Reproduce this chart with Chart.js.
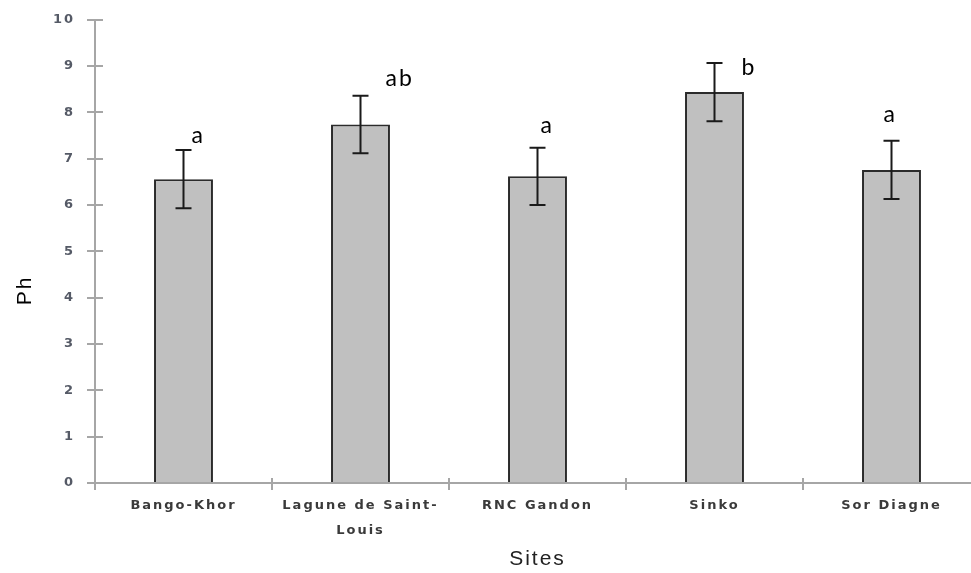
<!DOCTYPE html>
<html lang="fr">
<head>
    <meta charset="UTF-8">
    <title>Ph par site</title>
    <style>
        body {
            margin: 0;
            background-color: #ffffff;
            overflow: hidden;
        }
        #wrap {
            width: 990px;
            height: 573px;
        }
    </style>
    <script src="https://cdn.jsdelivr.net/npm/chart.js"></script>
</head>
<body>
    <div id="wrap">
        <canvas id="chartPh" width="990" height="573"></canvas>
    </div>
    <script>
        // Données
        const sites = ['Bango-Khor', ['Lagune de Saint-', 'Louis'], 'RNC Gandon', 'Sinko', 'Sor Diagne'];
        const moyennes = [6.56, 7.74, 6.62, 8.44, 6.76];
        const ecarts = [0.63, 0.62, 0.62, 0.63, 0.63];
        const lettres = ['a', 'ab', 'a', 'b', 'a'];
        const yTicks = [0, 1, 2, 3, 4, 5, 6, 7, 8, 9, 10];

        const axisColor = '#a6a6a6';

        // espacement des lettres (la figure d'origine est étirée en largeur)
        const spacingPlugin = {
            id: 'spacing',
            beforeDraw(chart) {
                chart.ctx.letterSpacing = '2px';
            }
        };

        // barres d'erreur + lettres de significativité
        const errorPlugin = {
            id: 'errorBars',
            afterDatasetsDraw(chart, args, opts) {
                const ctx = chart.ctx;
                const y = chart.scales.y;
                const meta = chart.getDatasetMeta(0);
                ctx.save();
                ctx.strokeStyle = '#1a1a1a';
                ctx.lineWidth = 2;
                meta.data.forEach((bar, i) => {
                    const x = bar.x;
                    const top = y.getPixelForValue(moyennes[i] + ecarts[i]);
                    const bot = y.getPixelForValue(moyennes[i] - ecarts[i]);
                    ctx.beginPath();
                    ctx.moveTo(x, top);
                    ctx.lineTo(x, bot);
                    ctx.moveTo(x - 8, top);
                    ctx.lineTo(x + 8, top);
                    ctx.moveTo(x - 8, bot);
                    ctx.lineTo(x + 8, bot);
                    ctx.stroke();

                    const off = opts.offsets[i];
                    ctx.fillStyle = '#000000';
                    ctx.font = '23px Lato';
                    ctx.textAlign = 'left';
                    ctx.textBaseline = 'alphabetic';
                    ctx.fillText(lettres[i], x + off[0], top + off[1]);
                });
                ctx.restore();
            }
        };

        // petits traits qui traversent les axes + titre "Ph"
        const axisPlugin = {
            id: 'axisExtras',
            afterDraw(chart) {
                const ctx = chart.ctx;
                const xs = chart.scales.x;
                const ys = chart.scales.y;
                const area = chart.chartArea;
                ctx.save();
                ctx.strokeStyle = axisColor;
                ctx.lineWidth = 2;
                ctx.beginPath();
                yTicks.forEach(v => {
                    const py = Math.round(ys.getPixelForValue(v));
                    ctx.moveTo(area.left, py);
                    ctx.lineTo(area.left + 8, py);
                });
                for (let i = 0; i < sites.length - 1; i++) {
                    const px = (xs.getPixelForValue(i) + xs.getPixelForValue(i + 1)) / 2;
                    ctx.moveTo(px, area.bottom);
                    ctx.lineTo(px, area.bottom - 5);
                }
                ctx.stroke();

                ctx.translate(25, (area.top + area.bottom) / 2 + 39);
                ctx.rotate(-Math.PI / 2);
                ctx.fillStyle = '#000000';
                ctx.font = '21px Arial, "Liberation Sans"';
                ctx.textAlign = 'center';
                ctx.textBaseline = 'middle';
                ctx.fillText('Ph', 0, 0);
                ctx.restore();
            }
        };

        const ctxPh = document.getElementById('chartPh').getContext('2d');
        new Chart(ctxPh, {
            type: 'bar',
            data: {
                labels: sites,
                datasets: [{
                    label: 'Ph',
                    data: moyennes,
                    backgroundColor: '#c0c0c0',
                    borderColor: '#2b2b2b',
                    borderWidth: 2,
                    categoryPercentage: 1,
                    barPercentage: 0.333
                }]
            },
            options: {
                responsive: false,
                animation: false,
                layout: {
                    padding: { top: 19, right: 10, left: 0, bottom: 0 }
                },
                plugins: {
                    legend: { display: false },
                    tooltip: { enabled: false },
                    errorBars: {
                        offsets: [[8, -7], [25, -10], [3, -15], [27, 12], [-8, -19]]
                    }
                },
                scales: {
                    x: {
                        afterFit(scale) { scale.height = 90; },
                        grid: {
                            drawOnChartArea: false,
                            tickLength: 7,
                            color: axisColor,
                            lineWidth: 2
                        },
                        border: { color: axisColor, width: 2 },
                        ticks: {
                            maxRotation: 0,
                            autoSkip: false,
                            padding: 3,
                            color: '#3a3a3a',
                            font: { family: 'DejaVu Sans', size: 13, weight: 'bold', lineHeight: 1.92 }
                        },
                        title: {
                            display: true,
                            text: 'Sites',
                            color: '#222222',
                            font: { family: 'Arial, "Liberation Sans"', size: 21 },
                            padding: { top: 0, bottom: 1 }
                        }
                    },
                    y: {
                        min: 0,
                        max: 10,
                        afterFit(scale) { scale.width = 95; },
                        afterBuildTicks(scale) {
                            scale.ticks = yTicks.map(v => ({ value: v }));
                        },
                        grid: {
                            drawOnChartArea: false,
                            tickLength: 8,
                            color: axisColor,
                            lineWidth: 2
                        },
                        border: { color: axisColor, width: 2 },
                        ticks: {
                            padding: 12,
                            color: '#555a66',
                            font: { family: 'DejaVu Sans', size: 13, weight: 'bold' }
                        }
                    }
                }
            },
            plugins: [spacingPlugin, errorPlugin, axisPlugin]
        });
    </script>
</body>
</html>
